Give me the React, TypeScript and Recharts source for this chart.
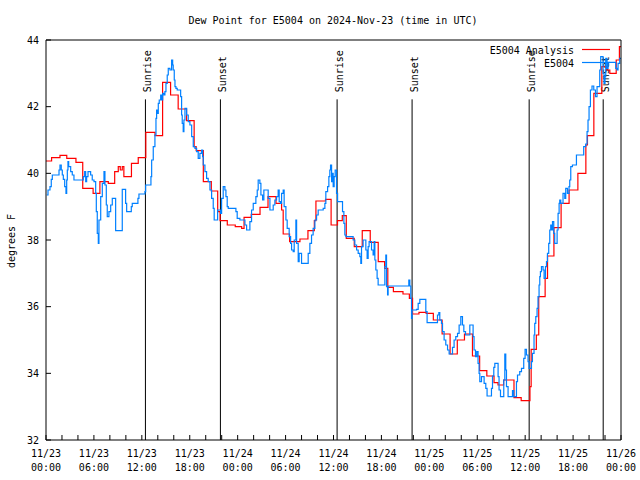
import React from "react";
import { LineChart, Line, XAxis, YAxis, ReferenceLine, Legend } from "recharts";

// hours since 2024-11-23 00:00 UTC
const MAJOR_HOURS = [0, 6, 12, 18, 24, 30, 36, 42, 48, 54, 60, 66, 72];
const MINOR_HOURS = [0, 2, 4, 6, 8, 10, 12, 14, 16, 18, 20, 22, 24, 26, 28, 30, 32, 34, 36, 38, 40, 42, 44, 46, 48, 50, 52, 54, 56, 58, 60, 62, 64, 66, 68, 70, 72];
const DEG_TICKS = [32, 34, 36, 38, 40, 42, 44];
const SERIES_NAMES = ["E5004 Analysis", "E5004"];

const sunEvents = [
  { h: 12.45, name: "Sunrise" },
  { h: 21.84, name: "Sunset" },
  { h: 36.45, name: "Sunrise" },
  { h: 45.84, name: "Sunset" },
  { h: 60.5, name: "Sunrise" },
  { h: 69.77, name: "Sunset" },
];
const SUN_LINE_TOP = 42.22;

// [hour, dew point F]
const analysisSteps: [number, number][] = [
  [0, 40.37], [0.7, 40.47], [1.75, 40.54], [2.6, 40.45], [3.75, 40.33], [4.6, 39.55], [5.9, 39.4],
  [6.75, 39.75], [7.8, 39.7], [8.6, 40.05], [9.05, 40.2], [9.3, 40.1], [9.55, 40.2], [9.75, 39.9],
  [10.7, 40.3], [11.55, 40.47], [12.5, 41.23], [13.65, 41.13], [14.6, 42.73], [15.6, 42.35],
  [16.55, 41.93], [17.6, 41.58], [18.55, 40.8], [18.8, 40.68], [19.7, 39.75], [20.7, 39.47],
  [21.5, 38.85], [21.8, 38.58], [22.7, 38.45], [23.7, 38.4], [24.5, 38.35], [24.8, 38.68],
  [25.7, 38.77], [26.8, 38.98], [27.8, 39.3], [28.8, 39.1], [29.5, 38.9], [29.7, 38.18],
  [30.5, 37.95], [31.8, 38.03], [32.8, 38.28], [33.6, 38.58], [33.8, 39.17], [35.0, 39.22],
  [35.7, 38.45], [36.5, 38.58], [37.1, 38.73], [37.6, 38.05], [38.6, 37.8], [39.6, 38.28],
  [40.6, 37.93], [41.6, 37.35], [42.4, 37.15], [42.8, 36.58], [43.5, 36.45], [44.7, 36.38],
  [45.5, 36.25], [45.9, 35.78], [46.7, 35.83], [47.6, 35.8], [48.5, 35.6], [49.6, 35.18],
  [50.6, 34.58], [51.5, 35.0], [52.4, 35.18], [53.4, 34.52], [54.3, 34.08], [55.2, 33.92],
  [56.1, 33.72], [56.6, 33.65], [57.3, 33.8], [58.6, 33.27], [59.5, 33.18], [60.6, 33.6],
  [60.75, 34.72], [61.4, 35.15], [61.7, 36.3], [62.5, 36.85], [62.8, 37.52], [63.6, 38.37],
  [64.5, 39.1], [65.5, 39.5], [66.6, 40.0], [67.6, 40.85], [67.8, 41.13], [68.6, 42.4],
  [69.6, 43.2], [70.2, 43.1], [70.6, 43.0], [71.4, 43.4], [71.8, 43.8], [72, 43.8],
];

const stationSteps: [number, number][] = [
  [0.09, 39.35], [0.25, 39.5], [0.5, 39.6], [0.66, 39.82], [0.79, 39.95], [1.63, 40.1], [1.75, 40.25],
  [1.91, 40.1], [2.04, 39.95], [2.17, 39.82], [2.34, 39.6], [2.5, 39.4], [2.59, 39.8], [2.67, 40.1],
  [2.75, 40.35], [2.84, 40.2], [3.09, 40.05], [3.29, 39.95], [3.5, 39.8], [4.67, 39.9], [4.84, 40.05],
  [4.97, 39.75], [5.09, 39.9], [5.26, 40.05], [5.59, 39.95], [5.79, 39.8], [6.01, 39.75], [6.22, 39.4],
  [6.3, 38.85], [6.42, 38.2], [6.55, 37.9], [6.63, 38.6], [6.85, 39.3], [7.05, 39.7], [7.26, 40.05],
  [7.38, 39.65], [7.55, 39.05], [7.67, 38.7], [7.88, 38.85], [8.1, 39.05], [8.3, 39.25], [8.72, 38.28],
  [9.55, 39.52], [9.97, 39.1], [10.1, 38.85], [10.68, 39.0], [10.8, 39.1], [11.51, 39.25], [11.64, 39.38],
  [12.39, 39.45], [12.48, 39.65],
  [13.14, 39.9], [13.23, 40.4], [13.43, 40.8], [13.64, 41.15], [13.77, 41.65], [13.85, 41.9], [13.93, 41.8],
  [14.06, 42.1], [14.18, 42.2], [14.36, 42.35], [14.48, 42.2], [14.61, 42.4], [14.77, 42.35], [14.89, 42.45],
  [15.02, 42.7], [15.18, 42.95], [15.31, 43.15], [15.52, 43.1], [15.73, 43.4], [15.86, 43.25], [15.93, 43.1],
  [16.06, 42.8], [16.15, 42.6], [16.27, 42.55], [16.43, 42.5], [16.86, 42.3], [16.98, 41.75], [17.06, 41.5],
  [17.18, 41.25], [17.27, 41.6], [17.4, 41.95], [17.61, 41.75], [17.81, 41.55], [18.02, 41.45], [18.24, 41.1],
  [18.44, 40.8], [18.65, 40.75], [18.86, 40.65], [19.06, 40.45], [19.27, 40.6], [19.49, 40.7], [19.61, 40.5],
  [19.69, 40.25], [19.9, 40.05], [20.11, 39.85], [20.31, 39.75], [20.53, 39.5], [20.74, 39.25], [20.94, 38.95],
  [21.06, 38.6], [21.49, 38.9], [21.86, 38.8], [21.99, 39.25], [22.19, 39.6], [22.4, 39.5], [22.53, 39.3],
  [22.69, 39.0], [22.82, 38.95], [23.78, 38.85], [23.94, 38.65], [24.28, 38.6], [24.91, 38.45], [25.12, 38.3],
  [25.53, 38.55], [25.74, 38.9], [25.95, 39.1], [26.28, 39.3], [26.45, 39.5], [26.57, 39.8], [26.78, 39.7],
  [26.91, 39.35], [27.12, 39.2], [27.28, 39.5], [27.82, 39.25], [28.04, 38.9], [28.45, 39.05], [28.66, 39.2],
  [28.87, 39.3], [29.07, 39.5], [29.2, 39.15], [29.37, 39.1], [29.5, 39.4], [29.7, 39.5], [29.82, 39.0],
  [30.04, 38.6], [30.2, 38.35], [30.45, 38.1], [30.63, 37.9], [30.75, 37.7], [30.95, 37.65], [31.08, 38.0],
  [31.29, 38.6], [31.38, 37.9], [31.58, 37.35], [31.7, 37.6], [32.0, 37.3], [32.83, 37.6], [33.04, 37.9],
  [33.25, 38.15], [33.45, 38.35], [33.67, 38.6], [33.88, 38.75], [34.08, 38.9], [34.71, 38.95], [34.92, 39.1],
  [35.04, 39.45], [35.26, 39.6], [35.42, 39.9], [35.54, 40.1], [35.63, 40.25], [35.76, 39.75], [35.88, 40.0],
  [35.96, 39.6], [36.08, 39.9], [36.21, 40.1], [36.38, 39.4], [36.51, 39.15], [37.13, 38.85], [37.3, 38.5],
  [37.42, 38.15], [37.55, 38.1], [38.46, 38.0], [38.67, 37.85], [38.89, 37.7], [39.09, 37.6], [39.3, 37.5],
  [39.42, 37.3], [39.51, 37.8], [39.71, 38.0], [40.05, 37.7], [40.21, 37.45], [40.34, 37.8], [40.46, 37.95],
  [40.76, 37.7], [40.96, 37.55], [41.09, 37.95], [41.18, 37.4], [41.3, 37.1], [41.46, 36.85], [41.59, 36.65],
  [42.3, 36.65], [42.43, 37.2], [42.55, 37.55], [42.64, 36.6], [42.77, 36.35], [42.84, 36.62], [45.34, 36.62],
  [45.43, 36.8], [45.56, 36.62], [45.68, 36.25], [45.77, 35.65], [45.84, 35.9], [46.4, 35.92], [46.6, 36.1],
  [46.81, 36.22], [47.43, 36.22], [47.56, 35.85], [47.72, 35.52], [48.9, 35.52], [49.02, 35.75], [49.19, 35.82],
  [49.31, 35.6], [49.52, 35.5], [49.65, 35.25], [49.85, 35.0], [50.06, 34.85], [50.28, 34.7], [50.48, 34.58],
  [50.9, 34.78], [51.1, 35.0], [51.31, 35.1], [51.53, 35.2], [51.73, 35.45], [51.94, 35.7], [52.15, 35.45],
  [52.32, 35.25], [52.53, 35.15], [53.07, 35.45], [53.48, 35.1], [53.6, 34.7], [53.78, 34.5], [53.94, 34.65],
  [54.1, 34.3], [54.23, 34.0], [54.32, 33.75], [54.53, 33.9], [54.86, 33.7], [55.07, 33.55], [55.23, 33.32],
  [55.78, 33.55], [55.91, 33.92], [56.07, 34.18], [56.2, 34.3], [56.61, 33.9], [56.73, 33.5], [56.91, 33.3],
  [57.32, 33.8], [57.45, 34.58], [57.57, 34.1], [57.66, 33.6], [57.86, 33.3], [58.41, 33.48], [58.57, 33.3],
  [58.91, 33.75], [59.04, 33.95], [59.32, 34.05], [59.54, 34.15], [59.82, 34.45], [59.99, 34.72], [60.16, 34.55],
  [60.36, 34.35], [60.49, 34.15], [60.79, 34.35], [60.91, 34.6], [61.11, 35.15], [61.2, 35.5], [61.33, 35.7],
  [61.49, 35.95], [61.61, 36.3], [61.74, 36.65], [61.83, 36.9], [61.91, 37.05], [62.04, 37.2], [62.24, 37.1],
  [62.37, 36.85], [62.54, 37.2], [62.67, 37.35], [62.79, 37.6], [62.95, 37.9], [63.08, 38.3], [63.2, 38.45],
  [63.29, 38.3], [63.42, 38.55], [63.58, 38.2], [63.7, 37.9], [64.0, 38.3], [64.12, 38.8], [64.25, 39.1],
  [64.33, 39.2], [64.46, 39.1], [64.74, 39.4], [64.96, 39.25], [65.08, 39.55], [65.29, 39.4], [65.49, 39.6],
  [65.58, 39.8], [65.71, 40.2], [65.92, 40.25], [66.42, 40.55], [67.33, 40.8], [67.58, 40.88], [67.75, 41.25],
  [67.87, 41.6], [68.0, 42.0], [68.17, 42.5], [68.37, 42.62], [68.59, 42.5], [68.8, 42.3], [69.0, 42.6],
  [69.34, 43.1], [69.46, 43.5], [69.75, 43.0], [69.87, 42.7], [70.0, 42.9], [70.09, 43.45], [70.25, 43.15],
  [70.38, 43.33], [71.34, 43.15], [71.5, 43.1], [71.63, 43.3], [71.84, 43.45], [72, 43.45],
];

const analysisData = analysisSteps.map(([h, v]) => ({ h, v }));
const stationData = stationSteps.map(([h, v]) => ({ h, v }));

const FONT = '"DejaVu Sans Mono", "Liberation Mono", monospace';
const TICK_LEN = 5;

function TimeTick({ x, y, payload }: any) {
  const h = payload.value as number;
  if (!MAJOR_HOURS.includes(h)) return <g />;
  const day = 23 + Math.floor(h / 24);
  const hh = String(h % 24).padStart(2, "0");
  const base = y + TICK_LEN;
  return (
    <text x={x} y={base} textAnchor="middle" fontFamily={FONT} fontSize={10} fill="#000">
      <tspan x={x} dy={17}>{`11/${day}`}</tspan>
      <tspan x={x} dy={14}>{`${hh}:00`}</tspan>
    </text>
  );
}

function DegTick({ x, y, payload }: any) {
  return (
    <text x={x - TICK_LEN - 7} y={y} dy={3.5} textAnchor="end" fontFamily={FONT} fontSize={10} fill="#000">
      {payload.value}
    </text>
  );
}

function SunLabel({ viewBox, text }: any) {
  const { x, y } = viewBox;
  return (
    <text
      transform={`translate(${x + 5.5},${y - 7}) rotate(-90)`}
      fontFamily={FONT}
      fontSize={10}
      fill="#000"
    >
      {text}
    </text>
  );
}

function KeyBox({ payload }: any) {
  // keep gnuplot's plotting order: analysis first
  const items = SERIES_NAMES.map((n) => (payload || []).find((p: any) => p.value === n)).filter(Boolean);
  return (
    <svg width={150} height={28} style={{ display: "block" }}>
      {items.map((p: any, i: number) => (
        <g key={p.value}>
          <text x={94} y={7 + 13 * i} dy={3.5} textAnchor="end" fontFamily={FONT} fontSize={10} fill="#000">
            {p.value}
          </text>
          <line x1={102} x2={130} y1={6.5 + 13 * i} y2={6.5 + 13 * i} stroke={p.color} strokeWidth={1.2} />
        </g>
      ))}
    </svg>
  );
}

const axisStroke = { stroke: "#000", strokeWidth: 1 };

export default function App() {
  return (
    <div style={{ position: "absolute", left: 0, top: 0, width: 640, height: 480, background: "#fff" }}>
      <div
        style={{
          position: "absolute", left: 333, top: 20, transform: "translate(-50%, -50%)",
          fontFamily: FONT, fontSize: 10, whiteSpace: "nowrap", color: "#000",
        }}
      >
        Dew Point for E5004 on 2024-Nov-23 (time in UTC)
      </div>
      <div
        style={{
          position: "absolute", left: 11, top: 241, transform: "translate(-50%, -50%) rotate(-90deg)",
          fontFamily: FONT, fontSize: 10, whiteSpace: "nowrap", color: "#000",
        }}
      >
        degrees F
      </div>
      <LineChart width={640} height={480} margin={{ top: 40, right: 19, bottom: 40, left: 46 }}>
        <XAxis
          xAxisId="bottom" dataKey="h" type="number" domain={[0, 72]} allowDataOverflow
          ticks={MINOR_HOURS} interval={0} mirror tickSize={TICK_LEN} tickMargin={0}
          tick={<TimeTick />} tickLine={axisStroke} axisLine={axisStroke}
        />
        <XAxis
          xAxisId="top" orientation="top" dataKey="h" type="number" domain={[0, 72]} allowDataOverflow
          ticks={MINOR_HOURS} interval={0} mirror tickSize={TICK_LEN} tick={false}
          tickLine={axisStroke} axisLine={axisStroke}
        />
        <YAxis
          yAxisId="left" type="number" domain={[32, 44]} allowDataOverflow ticks={DEG_TICKS} interval={0}
          mirror tickSize={TICK_LEN} tickMargin={0} tick={<DegTick />} tickLine={axisStroke} axisLine={axisStroke}
        />
        <YAxis
          yAxisId="right" orientation="right" type="number" domain={[32, 44]} allowDataOverflow
          ticks={DEG_TICKS} interval={0} mirror tickSize={TICK_LEN} tick={false}
          tickLine={axisStroke} axisLine={axisStroke}
        />
        {sunEvents.map((s) => (
          <ReferenceLine
            key={`${s.name}-${s.h}`}
            xAxisId="bottom"
            yAxisId="left"
            segment={[{ x: s.h, y: SUN_LINE_TOP }, { x: s.h, y: 32 }]}
            stroke="#000"
            strokeWidth={1}
            label={<SunLabel text={s.name} />}
          />
        ))}
        <Line
          xAxisId="bottom" yAxisId="left" data={analysisData} dataKey="v" name={SERIES_NAMES[0]}
          type="stepAfter" stroke="#ff0000" strokeWidth={1.2} dot={false} activeDot={false}
          isAnimationActive={false}
        />
        <Line
          xAxisId="bottom" yAxisId="left" data={stationData} dataKey="v" name={SERIES_NAMES[1]}
          type="stepAfter" stroke="#0080ff" strokeWidth={1.2} dot={false} activeDot={false}
          isAnimationActive={false}
        />
        <Legend
          layout="vertical" align="center" verticalAlign="middle"
          wrapperStyle={{ left: 480, top: 43, width: 150, height: 28 }}
          content={<KeyBox />}
        />
      </LineChart>
    </div>
  );
}
